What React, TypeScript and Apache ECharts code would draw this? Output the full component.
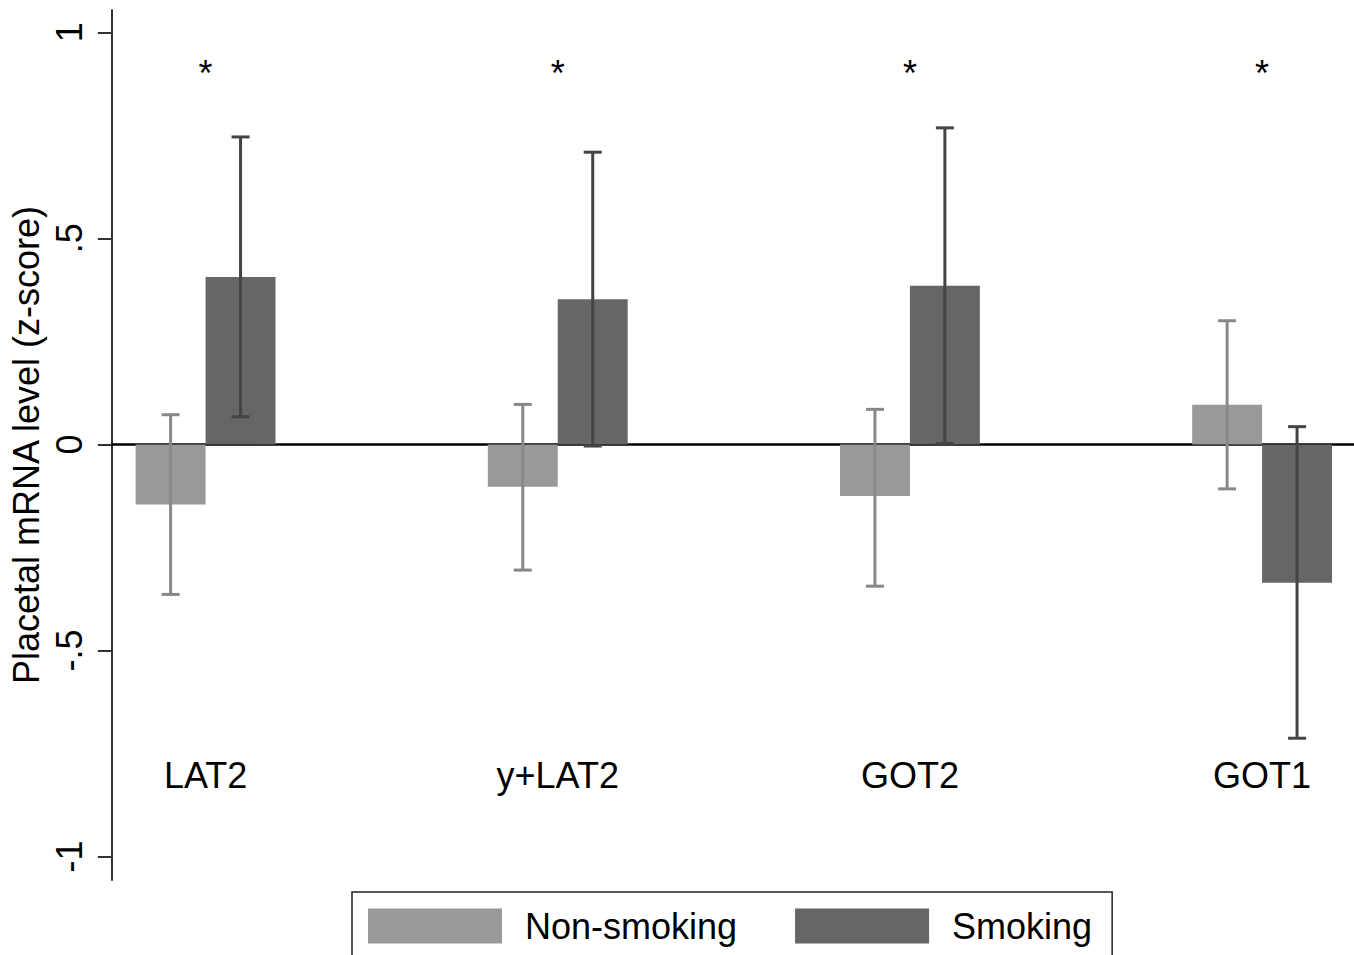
import React, { useEffect, useRef } from "react";
import * as echarts from "echarts";

const categories = ["LAT2", "y+LAT2", "GOT2", "GOT1"];
const categoryX = [1, 2, 3, 4];
const nonSmokingMean = [-0.146, -0.103, -0.125, 0.096];
const nonSmokingLow = [-0.364, -0.305, -0.344, -0.108];
const nonSmokingHigh = [0.072, 0.097, 0.085, 0.3];
const smokingMean = [0.406, 0.352, 0.385, -0.336];
const smokingLow = [0.067, -0.004, 0.002, -0.713];
const smokingHigh = [0.746, 0.709, 0.768, 0.043];
const significance = ["*", "*", "*", "*"];
const yTicks = [-1, -0.5, 0, 0.5, 1];

const FONT = '"Liberation Sans", Arial, Helvetica, sans-serif';
const NS_COLOR = "#999999";
const S_COLOR = "#666666";
const NS_ERR = "#888888";
const S_ERR = "#444444";
const HALF = 0.0993;

function fmtTick(v: number): string {
  if (v === 0) return "0";
  const s = String(v);
  return s.replace(/^(-?)0\./, "$1.");
}

function makeBarRender(offset: number, errColor: string) {
  return (params: any, api: any) => {
    const x = api.value(0) as number;
    const m = api.value(1) as number;
    const lo = api.value(2) as number;
    const hi = api.value(3) as number;
    const cx = x + offset;
    const a = api.coord([cx - HALF, 0]);
    const b = api.coord([cx + HALF, m]);
    const top = api.coord([cx, hi]);
    const bot = api.coord([cx, lo]);
    const cap = 9;
    const color = api.visual("color");
    return {
      type: "group",
      children: [
        {
          type: "rect",
          shape: {
            x: Math.min(a[0], b[0]),
            y: Math.min(a[1], b[1]),
            width: Math.abs(b[0] - a[0]),
            height: Math.abs(b[1] - a[1]),
          },
          style: { fill: color },
        },
        {
          type: "line",
          shape: { x1: top[0], y1: top[1], x2: bot[0], y2: bot[1] },
          style: { stroke: errColor, lineWidth: 3 },
        },
        {
          type: "line",
          shape: { x1: top[0] - cap, y1: top[1], x2: top[0] + cap, y2: top[1] },
          style: { stroke: errColor, lineWidth: 3 },
        },
        {
          type: "line",
          shape: { x1: bot[0] - cap, y1: bot[1], x2: bot[0] + cap, y2: bot[1] },
          style: { stroke: errColor, lineWidth: 3 },
        },
      ],
    };
  };
}

export default function App() {
  const ref = useRef<HTMLDivElement>(null);
  useEffect(() => {
    document.body.style.margin = "0";
    if (!ref.current) return;
    const chart = echarts.init(ref.current, undefined, { renderer: "svg" });
    const nsData = categoryX.map((x, i) => [x, nonSmokingMean[i], nonSmokingLow[i], nonSmokingHigh[i]]);
    const sData = categoryX.map((x, i) => [x, smokingMean[i], smokingLow[i], smokingHigh[i]]);
    const labelData = categoryX.map((x, i) => [x, i]);
    chart.setOption({
      animation: false,
      backgroundColor: "#ffffff",
      textStyle: { fontFamily: FONT },
      grid: { left: 110, right: 0, top: 10, bottom: 75, containLabel: false },
      legend: {
        data: [
          { name: "Non-smoking", icon: "rect" },
          { name: "Smoking", icon: "rect" },
        ],
        left: 352,
        top: 892,
        orient: "horizontal",
        itemWidth: 134,
        itemHeight: 35,
        itemGap: 58,
        padding: [16, 20, 16, 16],
        borderColor: "#222222",
        borderWidth: 1.5,
        borderRadius: 0,
        selectedMode: false,
        textStyle: { fontSize: 36, color: "#000000", fontFamily: FONT, padding: [0, 0, 0, 18] },
      },
      xAxis: {
        type: "value",
        min: 0.734,
        max: 4.261,
        axisLine: { show: true, onZero: true, lineStyle: { color: "#000000", width: 2.5 } },
        axisTick: { show: false },
        axisLabel: { show: false },
        splitLine: { show: false },
      },
      yAxis: {
        type: "value",
        min: -1.057,
        max: 1.054,
        name: "Placetal mRNA level (z-score)",
        nameLocation: "middle",
        nameRotate: 90,
        nameGap: 62,
        nameTextStyle: { fontSize: 36, color: "#000000", fontFamily: FONT },
        axisLine: { show: true, lineStyle: { color: "#333333", width: 2 } },
        axisTick: {
          show: true,
          length: 14,
          customValues: yTicks,
          lineStyle: { color: "#333333", width: 2 },
        },
        axisLabel: {
          show: true,
          customValues: yTicks,
          rotate: 90,
          margin: 24,
          fontSize: 36,
          color: "#000000",
          fontFamily: FONT,
          formatter: (v: number) => fmtTick(v),
        },
        splitLine: { show: false },
      },
      series: [
        {
          name: "Non-smoking",
          type: "custom",
          itemStyle: { color: NS_COLOR },
          renderItem: makeBarRender(-HALF, NS_ERR),
          data: nsData,
          encode: { x: 0, y: [1, 2, 3] },
          z: 3,
        },
        {
          name: "Smoking",
          type: "custom",
          itemStyle: { color: S_COLOR },
          renderItem: makeBarRender(HALF, S_ERR),
          data: sData,
          encode: { x: 0, y: [1, 2, 3] },
          z: 3,
        },
        {
          name: "labels",
          type: "custom",
          silent: true,
          data: labelData,
          encode: { x: 0, y: 1 },
          renderItem: (params: any, api: any) => {
            const x = api.value(0) as number;
            const i = api.value(1) as number;
            const lp = api.coord([x, -0.8035]);
            const sp = api.coord([x, 0.899]);
            return {
              type: "group",
              children: [
                {
                  type: "text",
                  x: lp[0],
                  y: lp[1],
                  style: {
                    text: categories[i],
                    fontSize: 36,
                    fontFamily: FONT,
                    fill: "#000000",
                    align: "center",
                    verticalAlign: "middle",
                  },
                },
                {
                  type: "text",
                  x: sp[0],
                  y: sp[1],
                  style: {
                    text: significance[i],
                    fontSize: 36,
                    fontFamily: FONT,
                    fill: "#000000",
                    align: "center",
                    verticalAlign: "middle",
                  },
                },
              ],
            };
          },
        },
      ],
    });
    return () => chart.dispose();
  }, []);
  return (
    <div
      ref={ref}
      style={{ position: "absolute", left: 0, top: 0, width: 1354, height: 955, overflow: "hidden" }}
    />
  );
}
